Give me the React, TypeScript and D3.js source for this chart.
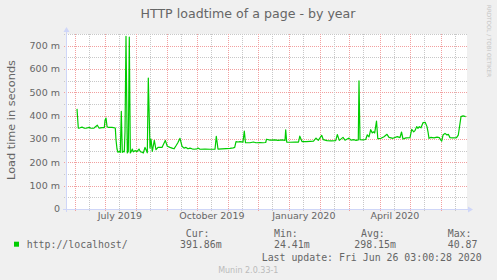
import React from "react";
import * as d3 from "d3";

// ---- data (day offsets from graph start, value in milli-seconds) ----
const startTime = Date.UTC(2019, 4, 23, 3, 0, 28);
const endTime = Date.UTC(2020, 5, 26, 3, 0, 28);
const dayOffsets = [
  11, 12.3, 14, 16, 18, 20, 23, 25, 28, 31.3, 33, 36, 38.3, 39, 40, 41, 42, 46, 49.3, 50, 51, 52, 53.3, 54.3,
  55.3, 56.3, 57.3, 58.3, 59, 60, 61.3, 62.3, 63.3, 64.3, 65.3, 66.3, 67.3, 69, 71, 73, 74.3, 76, 77.3, 79,
  80.5, 81.3, 82.3, 84, 85, 86.3, 88.3, 90, 92, 96, 99.3, 101.3, 104, 106, 108, 110, 111.7, 114, 116, 118,
  120, 122, 124, 126, 128, 131, 132, 134, 139, 144, 149, 150.3, 152, 156, 160, 164, 167.3, 168.7, 170, 172,
  174, 177, 178.3, 179.5, 184, 187.3, 190, 194, 197, 199.7, 200.5, 204, 209, 212, 216, 219, 219.7, 220.7,
  224, 229, 232.5, 233.8, 236, 240, 244, 247.5, 250, 252.3, 255.7, 257.3, 261, 265, 269.7, 271.3, 273.3,
  277, 279, 283, 285, 288, 290, 292.3, 293, 294, 297, 299.7, 301.3, 303, 304.7, 306.3, 307.3, 308.7, 310.5,
  311.8, 315, 318, 321, 323, 327, 331.3, 334, 335.5, 337, 340, 344, 345.7, 347.7, 349, 350.7, 352, 353.3,
  355, 357, 359.3, 361, 362, 363, 365, 368, 371, 373.3, 374.7, 375.7, 377, 379, 381, 382.3, 384, 387, 390.5,
  392.3, 395, 397, 399.7,
];
const loadValues = [
  429, 347, 348, 351, 347, 346, 350, 346, 347, 359, 347, 349, 349, 380, 390, 354, 350, 350, 347, 297, 257, 243, 247, 243,
  419, 243, 247, 245, 330, 740, 240, 247, 737, 240, 247, 257, 245, 250, 246, 257, 246, 243, 240, 264,
  250, 241, 561, 261, 300, 247, 294, 254, 264, 264, 294, 269, 264, 261, 258, 271, 283, 303, 269, 261,
  264, 258, 261, 258, 256, 258, 261, 256, 257, 256, 256, 311, 257, 258, 259, 260, 262, 264, 289, 287,
  289, 287, 334, 284, 284, 287, 284, 285, 284, 285, 299, 295, 296, 294, 296, 294, 339, 287,
  286, 287, 287, 312, 289, 289, 290, 291, 304, 294, 316, 297, 293, 292, 293, 319, 294,
  307, 295, 304, 295, 297, 294, 296, 549, 297, 296, 298, 318, 309, 340, 326, 331, 326,
  377, 301, 303, 310, 320, 307, 303, 310, 306, 330, 300, 305, 306, 341, 331, 336, 353, 346, 353,
  348, 370, 371, 353, 331, 303, 307, 305, 308, 306, 296, 291, 317, 324, 317, 320, 306, 305,
  306, 317, 396, 399, 396,
];
const yMajorTicks = [0, 100, 200, 300, 400, 500, 600, 700];
const yMinorTicks = [50, 150, 250, 350, 450, 550, 650, 750];
const xLabelMonths = [
  { label: "July 2019", y: 2019, m: 6 },
  { label: "October 2019", y: 2019, m: 9 },
  { label: "January 2020", y: 2020, m: 0 },
  { label: "April 2020", y: 2020, m: 3 },
];
const legendHeaders = ["Cur:", "Min:", "Avg:", "Max:"];
const legendValues = ["391.86m", "24.41m", "298.15m", "40.87"];
const seriesName = "http://localhost/";

const W = 497;
const H = 280;
const X0 = 66;
const X1 = 466;
const Y0 = 209;
const Y1 = 34;
const FONT = "'DejaVu Sans', sans-serif";
const MONO = "'DejaVu Sans Mono', monospace";
const TXT = "#666666";
const AXIS = "#CFD6F8";
const MGRID = "#f2a0a0";
const GRID = "#c8c8c8";

export default function App() {
  const x = d3.scaleUtc().domain([startTime, endTime]).range([X0, X1]);
  const y = d3.scaleLinear().domain([0, 750]).range([Y0, Y1]);

  const pts: [number, number][] = dayOffsets.map((d, i) => [startTime + d * 86400000, loadValues[i]]);
  const line = d3
    .line<[number, number]>()
    .x((p) => x(p[0]))
    .y((p) => y(p[1]));

  const monthStarts = d3.utcMonth.range(new Date(startTime), new Date(endTime));
  const midMonths = monthStarts
    .map((m) => d3.utcDay.offset(m, 14))
    .filter((d) => d.getTime() < endTime);
  const earlyMid = new Date(Date.UTC(2019, 4, 15));
  if (earlyMid.getTime() > startTime) midMonths.unshift(earlyMid);

  const r = (v: number) => Math.round(v) + 0.5;

  const colX = [185.7, 274, 361, 447.7];
  const valX = [180, 274, 354.3, 447.7];

  return (
    <svg
      width={W}
      height={H}
      style={{ position: "absolute", left: 0, top: 0, background: "#f0f0f0" }}
    >
      <rect x={0} y={0} width={W} height={H} fill="#f0f0f0" />
      <rect x={X0} y={Y1} width={X1 - X0 + 1} height={Y0 - Y1} fill="#ffffff" />

      {/* horizontal grid */}
      {yMinorTicks.map((t) => (
        <g key={"hm" + t}>
          <line x1={X0 - 2} x2={X1 + 1} y1={r(y(t))} y2={r(y(t))} stroke={GRID} strokeDasharray="1,1" shapeRendering="crispEdges" />
        </g>
      ))}
      {yMajorTicks.filter((t) => t > 0).map((t) => (
        <line key={"hM" + t} x1={X0 - 2} x2={X1 + 1} y1={r(y(t))} y2={r(y(t))} stroke={MGRID} strokeDasharray="1,1" shapeRendering="crispEdges" />
      ))}
      {/* vertical grid */}
      {midMonths.map((d, i) => (
        <line key={"vm" + i} x1={r(x(d))} x2={r(x(d))} y1={Y1} y2={Y0 + 2} stroke={GRID} strokeDasharray="1,1" shapeRendering="crispEdges" />
      ))}
      {monthStarts.map((d, i) => (
        <line key={"vM" + i} x1={r(x(d))} x2={r(x(d))} y1={Y1} y2={Y0 + 3} stroke={MGRID} strokeDasharray="1,1" shapeRendering="crispEdges" />
      ))}

      {/* data line */}
      <path d={line(pts) || ""} fill="none" stroke="#00cc00" strokeWidth={1.2} strokeLinejoin="round" />

      {/* axes */}
      <line x1={X0 - 3} x2={X1 + 3} y1={Y0 + 0.5} y2={Y0 + 0.5} stroke={AXIS} shapeRendering="crispEdges" />
      <path d={`M${X1 + 2},${Y0 - 2.5} L${X1 + 7},${Y0 + 0.5} L${X1 + 2},${Y0 + 3.5} Z`} fill={AXIS} />
      <line x1={X0 + 0.5} x2={X0 + 0.5} y1={Y0 + 3} y2={Y1 - 3} stroke={AXIS} shapeRendering="crispEdges" />
      <path d={`M${X0 - 2.5},${Y1 - 2} L${X0 + 0.5},${Y1 - 7} L${X0 + 3.5},${Y1 - 2} Z`} fill={AXIS} />

      {/* y tick labels */}
      {yMajorTicks.map((t) => (
        <text key={"yl" + t} x={60} y={y(t) + 3.3} textAnchor="end" fontFamily={FONT} fontSize={9.5} fill={TXT}>
          {t === 0 ? "0" : `${t} m`}
        </text>
      ))}
      {/* x labels */}
      {xLabelMonths.map((m) => (
        <text
          key={m.label}
          x={x(Date.UTC(m.y, m.m, 16))}
          y={219}
          textAnchor="middle"
          fontFamily={FONT}
          fontSize={9.5}
          fill={TXT}
        >
          {m.label}
        </text>
      ))}

      {/* title */}
      <text x={248} y={18.3} textAnchor="middle" fontFamily={FONT} fontSize={12.6} fill={TXT}>
        HTTP loadtime of a page - by year
      </text>
      {/* vertical axis title */}
      <text
        transform="translate(15,120) rotate(-90)"
        textAnchor="middle"
        fontFamily={FONT}
        fontSize={11.3}
        fill={TXT}
      >
        Load time in seconds
      </text>
      {/* rrdtool watermark */}
      <text
        transform="translate(486.5,5) rotate(90)"
        textAnchor="start"
        fontFamily={FONT}
        fontSize={5.6}
        fill="#c4c4c4"
      >
        RRDTOOL / TOBI OETIKER
      </text>

      {/* legend */}
      {legendHeaders.map((h, i) => (
        <text key={h} x={colX[i]} y={236.5} fontFamily={MONO} fontSize={9.9} fill={TXT}>
          {h}
        </text>
      ))}
      <rect x={14} y={241.7} width={5} height={5} fill="#00cc00" />
      <text x={26.7} y={248.3} fontFamily={MONO} fontSize={9.9} fill={TXT}>
        {seriesName}
      </text>
      {legendValues.map((v, i) => (
        <text key={"v" + i} x={valX[i]} y={248.3} fontFamily={MONO} fontSize={9.9} fill={TXT}>
          {v}
        </text>
      ))}
      <text x={261.7} y={260.8} fontFamily={MONO} fontSize={9.9} fill={TXT}>
        Last update: Fri Jun 26 03:00:28 2020
      </text>
      <text x={248.3} y={273} textAnchor="middle" fontFamily={FONT} fontSize={8} fill="#bbbbbb">
        Munin 2.0.33-1
      </text>
    </svg>
  );
}
